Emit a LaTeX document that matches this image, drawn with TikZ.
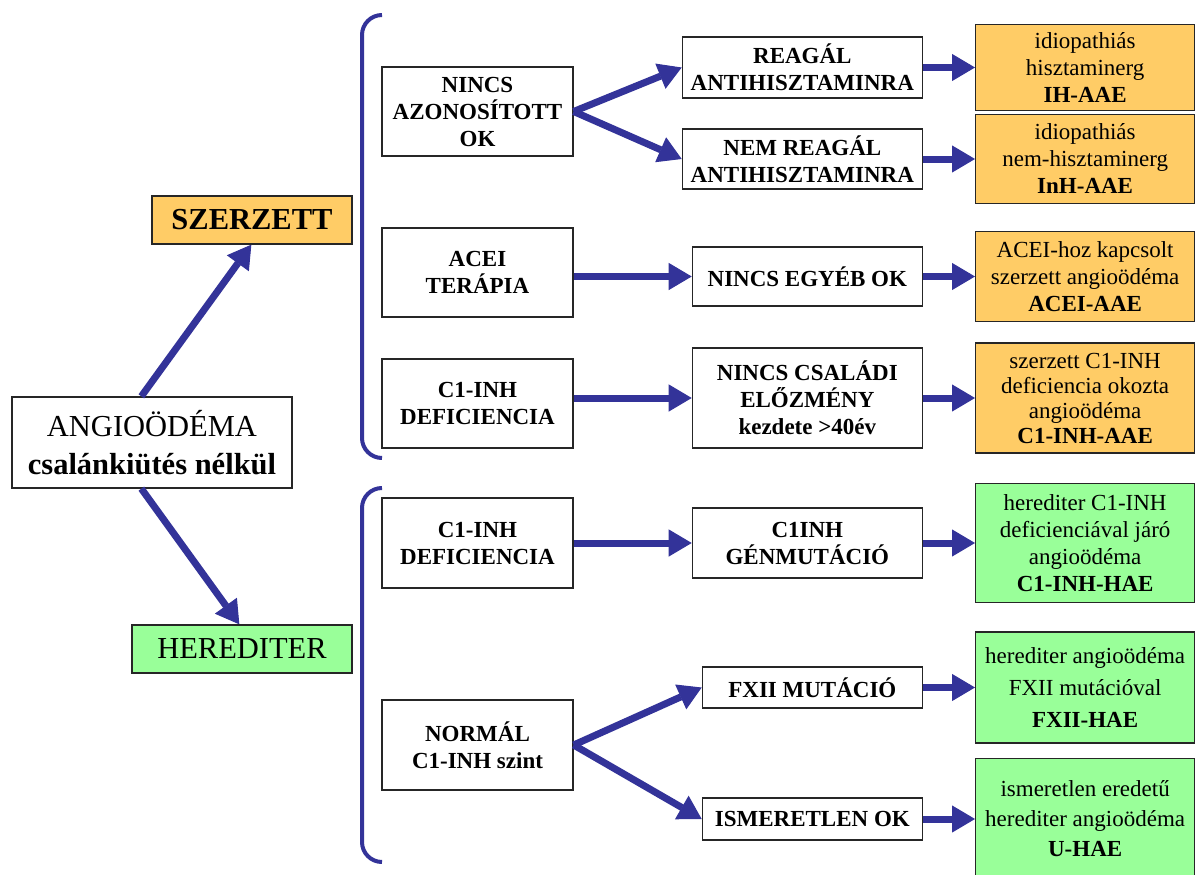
\documentclass[tikz,border=0pt]{standalone}
\usepackage{fontspec}
\setmainfont{Liberation Serif}
\usetikzlibrary{positioning, arrows.meta}
\definecolor{kek}{RGB}{51,51,153}
\definecolor{narancs}{RGB}{255,204,102}
\definecolor{zold}{RGB}{153,255,153}

\begin{document}
\begin{tikzpicture}[x=1pt, y=-1pt,
    doboz/.style={rectangle, draw=black!85, line width=1.3pt, fill=white, align=center, inner sep=3pt},
    fo/.style={doboz, minimum width=280pt, minimum height=91pt, font=\fontsize{30.5}{38}\selectfont},
    csoport/.style={doboz, minimum height=48pt, font=\fontsize{30.5}{36}\selectfont},
    kozep/.style={doboz, minimum width=191pt, minimum height=89pt, font=\fontsize{23}{27}\selectfont\bfseries},
    okbox/.style={doboz, anchor=east, font=\fontsize{23}{27}\selectfont\bfseries},
    eredmeny/.style={doboz, minimum width=219pt, font=\fontsize{23}{27}\selectfont},
    arrow/.style={line width=7pt, draw=kek, -{Triangle[length=23pt, width=27pt, line width=1pt]}},
    zarojel/.style={line width=4pt, draw=kek, rounded corners=20pt},
]
\path[use as bounding box, fill=white] (0,0) rectangle (1195,875);

% Nodes
\node[fo] (angio) at (152,442.5) {ANGIOÖDÉMA\\\textbf{csalánkiütés nélkül}};
\node[csoport, fill=narancs, minimum width=200pt] (szerzett) at (252,220) {\textbf{SZERZETT}};
\node[csoport, fill=zold, minimum width=220pt] (herediter) at (242,649) {HEREDITER};

% szerzett ag
\node[kozep] (nincsOk) at (477.5,111.5) {NINCS\\AZONOSÍTOTT\\OK};
\node[okbox, minimum width=240pt, minimum height=61pt] (reagal) at (923,67.5) {REAGÁL\\ANTIHISZTAMINRA};
\node[okbox, minimum width=240pt, minimum height=60pt] (nemReagal) at (923,159) {NEM REAGÁL\\ANTIHISZTAMINRA};
\node[eredmeny, fill=narancs, minimum height=86pt, right=52pt of reagal] (ihAae) {idiopathiás\\hisztaminerg\\\textbf{IH-AAE}};
\node[eredmeny, fill=narancs, minimum height=89pt, right=52pt of nemReagal] (inhAae) {idiopathiás\\nem-hisztaminerg\\\textbf{InH-AAE}};

\node[kozep] (aceiTerapia) at (477.5,272.5) {ACEI\\TERÁPIA};
\node[okbox, minimum width=230pt, minimum height=59pt] (nincsEgyeb) at (923,276.5) {NINCS EGYÉB OK};
\node[eredmeny, fill=narancs, minimum height=90pt, right=52pt of nincsEgyeb] (aceiAae) {ACEI-hoz kapcsolt\\szerzett angioödéma\\\textbf{ACEI-AAE}};

\node[kozep] (c1inhDef) at (477.5,403.5) {C1-INH\\DEFICIENCIA};
\node[okbox, minimum width=230pt, minimum height=100pt] (nincsCsaladi) at (923,398) {NINCS CSALÁDI\\ELŐZMÉNY\\kezdete >40év};
\node[eredmeny, fill=narancs, minimum height=110pt, right=52pt of nincsCsaladi, font=\fontsize{23}{25}\selectfont] (c1inhAae) {szerzett C1-INH\\deficiencia okozta\\angioödéma\\\textbf{C1-INH-AAE}};

% herediter ag
\node[kozep, minimum height=90pt] (c1inhDefH) at (477.5,543) {C1-INH\\DEFICIENCIA};
\node[okbox, minimum width=230pt, minimum height=70pt] (genMutacio) at (923,543) {C1INH\\GÉNMUTÁCIÓ};
\node[eredmeny, fill=zold, minimum height=119pt, right=52pt of genMutacio] (c1inhHae) {herediter C1-INH\\deficienciával járó\\angioödéma\\\textbf{C1-INH-HAE}};

\node[kozep, minimum height=90pt] (normal) at (477.5,745) {NORMÁL\\C1-INH szint};
\node[okbox, minimum width=220pt, minimum height=41pt] (fxiiMutacio) at (923,687.5) {FXII MUTÁCIÓ};
\node[okbox, minimum width=220pt, minimum height=42pt] (ismeretlenOk) at (923,819) {ISMERETLEN OK};
\node[eredmeny, fill=zold, minimum height=111pt, right=52pt of fxiiMutacio, font=\fontsize{23}{32}\selectfont] (fxiiHae) {herediter angioödéma\\FXII mutációval\\\textbf{FXII-HAE}};
\node[eredmeny, fill=zold, minimum height=121pt, right=52pt of ismeretlenOk, font=\fontsize{23}{30}\selectfont] (uHae) {ismeretlen eredetű\\herediter angioödéma\\\textbf{U-HAE}};

% Brackets
\draw[zarojel] (382,15) -| (362,458) -- (382,458);
\draw[zarojel] (382,488) -| (362,862) -- (382,862);

% Connections
\draw[arrow] ([xshift=130pt]angio.north west) -- ([xshift=100pt]szerzett.south west);
\draw[arrow] ([xshift=130pt]angio.south west) -- ([xshift=108pt]herediter.north west);

\draw[arrow] (nincsOk.east) -- (reagal.west);
\draw[arrow] (nincsOk.east) -- (nemReagal.west);
\draw[arrow] (reagal) -- (ihAae);
\draw[arrow] (nemReagal) -- (inhAae);
\draw[arrow] (aceiTerapia.east |- nincsEgyeb) -- (nincsEgyeb);
\draw[arrow] (nincsEgyeb) -- (aceiAae);
\draw[arrow] (c1inhDef.east |- nincsCsaladi) -- (nincsCsaladi);
\draw[arrow] (nincsCsaladi) -- (c1inhAae);

\draw[arrow] (c1inhDefH) -- (genMutacio);
\draw[arrow] (genMutacio) -- (c1inhHae);
\draw[arrow] (normal.east) -- (fxiiMutacio.west);
\draw[arrow] (normal.east) -- (ismeretlenOk.west);
\draw[arrow] (fxiiMutacio) -- (fxiiHae);
\draw[arrow] (ismeretlenOk) -- (uHae);

\end{tikzpicture}
\end{document}
